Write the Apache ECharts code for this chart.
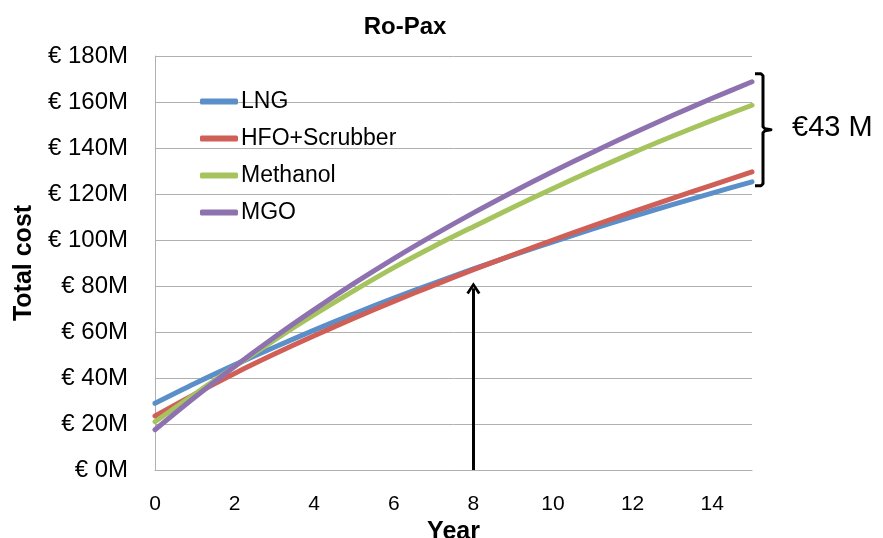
<!DOCTYPE html>
<html>
<head>
<meta charset="utf-8">
<script src="https://cdn.jsdelivr.net/npm/echarts@6/dist/echarts.min.js"></script>
<style>
    html, body { margin: 0; padding: 0; background: #fff; }
    #chart { width: 883px; height: 538px; }
</style>
</head>
<body>
<div id="chart"></div>
<script>
// years 0..15, total cost in million euro
const years = [0, 1, 2, 3, 4, 5, 6, 7, 8, 9, 10, 11, 12, 13, 14, 15];
const lng = [29, 37.6, 45.7, 53.4, 60.8, 67.9, 74.7, 81.2, 87.4, 93.4, 99.2, 104.8, 110.2, 115.4, 120.4, 125.3];
const hfo = [23.5, 33.0, 42.0, 50.4, 58.4, 66.0, 73.3, 80.3, 87.1, 93.6, 100.0, 106.2, 112.2, 118.1, 123.9, 129.6];
const methanol = [21, 33, 45, 56.5, 67.5, 78, 88, 97.2, 105.8, 114.2, 122.4, 130.3, 137.9, 145.1, 152, 158.6];
const mgo = [17.5, 31.6, 45.0, 57.7, 69.7, 81.1, 91.9, 102.1, 111.8, 121.0, 129.8, 138.2, 146.3, 154.1, 161.6, 168.8];

const seriesNames = ['LNG', 'HFO+Scrubber', 'Methanol', 'MGO'];
const seriesColors = ['#5A8FCA', '#CF5F57', '#A6C45E', '#8E72B0'];
const arrowYear = 8;
const arrowTop = 79;
const gapLabel = '€43 M';

const font = '"Liberation Sans", Arial, sans-serif';
const gridColor = '#B0B0B0';

let myChart = echarts.init(document.getElementById('chart'), null, { renderer: 'canvas' });

function pairs(vals) {
    return years.map((y, i) => [y, vals[i]]);
}

function makeSeries(name, vals, color) {
    return {
        name: name,
        type: 'line',
        data: pairs(vals),
        showSymbol: false,
        smooth: 0.3,
        color: color,
        lineStyle: { width: 5, color: color, cap: 'round', join: 'round' },
        emphasis: { disabled: true }
    };
}

let series = [
    makeSeries(seriesNames[0], lng, seriesColors[0]),
    makeSeries(seriesNames[1], hfo, seriesColors[1]),
    makeSeries(seriesNames[2], methanol, seriesColors[2]),
    makeSeries(seriesNames[3], mgo, seriesColors[3])
];

// arrow at the break-even year
series[0].markLine = {
    silent: true,
    animation: false,
    symbol: ['none', 'path://M0,10 L6,0 L12,10 L10,11.5 L6,4.5 L2,11.5 Z'],
    symbolSize: [14, 12],
    label: { show: false },
    lineStyle: { color: '#000', width: 3, type: 'solid' },
    data: [[{ coord: [arrowYear, 0] }, { coord: [arrowYear, arrowTop] }]]
};

let chartOpt = {
    animation: false,
    title: {
        text: 'Ro-Pax',
        left: 400,
        top: 10,
        textAlign: 'center',
        textStyle: { fontFamily: font, fontSize: 24, fontWeight: 'bold', color: '#000' }
    },
    legend: {
        orient: 'vertical',
        left: 195,
        top: 85,
        itemWidth: 38,
        itemHeight: 6,
        itemGap: 14,
        icon: 'roundRect',
        data: seriesNames,
        textStyle: { fontFamily: font, fontSize: 23, color: '#000', padding: [4, 0, 0, -2] }
    },
    grid: {
        left: 155,
        right: 131,
        top: 56,
        bottom: 68,
        containLabel: false,
        outerBoundsMode: 'none'
    },
    xAxis: {
        type: 'value',
        min: 0,
        max: 15,
        interval: 2,
        name: 'Year',
        nameLocation: 'middle',
        nameGap: 39,
        nameTextStyle: { fontFamily: font, fontSize: 25, fontWeight: 'bold', color: '#000' },
        axisLine: { show: true, lineStyle: { color: gridColor, width: 1 } },
        axisTick: { show: false },
        splitLine: { show: false },
        axisLabel: {
            showMaxLabel: false,
            margin: 24,
            fontFamily: font,
            fontSize: 21,
            color: '#000'
        }
    },
    yAxis: {
        type: 'value',
        min: 0,
        max: 180,
        interval: 20,
        name: 'Total cost',
        nameLocation: 'middle',
        nameGap: 116,
        nameRotate: 90,
        nameTextStyle: { fontFamily: font, fontSize: 25, fontWeight: 'bold', color: '#000' },
        axisLine: { show: true, lineStyle: { color: gridColor, width: 1 } },
        axisTick: { show: false },
        splitLine: { show: true, lineStyle: { color: gridColor, width: 1 } },
        axisLabel: {
            margin: 27,
            fontFamily: font,
            fontSize: 24,
            color: '#000',
            formatter: (v) => '€ ' + v + 'M'
        }
    },
    series: series
};

myChart.setOption(chartOpt);

// bracket showing the spread at the last year
let last = years.length - 1;
let topPx = myChart.convertToPixel({ gridIndex: 0 }, [years[last], mgo[last]]);
let botPx = myChart.convertToPixel({ gridIndex: 0 }, [years[last], lng[last]]);
let bx = topPx[0] + 11;
let y0 = topPx[1] - 8;
let y1 = botPx[1] + 4;
let ym = (y0 + y1) / 2;

myChart.setOption({
    graphic: [
        {
            type: 'polyline',
            silent: true,
            shape: {
                points: [
                    [bx - 8, y0], [bx - 2, y0], [bx, y0 + 2],
                    [bx, ym - 3], [bx + 2, ym - 1], [bx + 8, ym],
                    [bx + 2, ym + 1], [bx, ym + 3],
                    [bx, y1 - 2], [bx - 2, y1], [bx - 8, y1]
                ]
            },
            style: { stroke: '#000', lineWidth: 3, fill: null, lineJoin: 'round' }
        },
        {
            type: 'text',
            silent: true,
            left: bx + 29,
            top: ym - 16,
            style: { text: gapLabel, fontFamily: font, fontSize: 29, fill: '#000' }
        }
    ]
});
</script>
</body>
</html>
